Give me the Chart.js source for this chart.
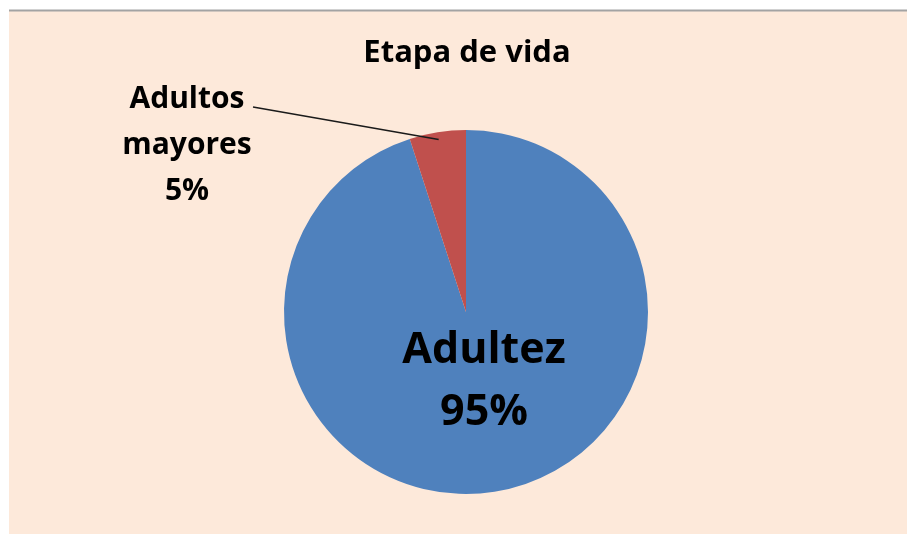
<!DOCTYPE html>
<html>
<head>
<meta charset="utf-8">
<title>Etapa de vida</title>
<script src="https://cdn.jsdelivr.net/npm/chart.js@4.4.1/dist/chart.umd.min.js"></script>
<style>
    html, body { margin: 0; padding: 0; background: #ffffff; }
    #wrap { width: 907px; height: 535px; position: relative; }
</style>
</head>
<body>
<div id="wrap"><canvas id="pieChart" width="907" height="535"></canvas></div>
<script>
// Data
const chartTitle = 'Etapa de vida';
const labels = ['Adultez', 'Adultos mayores'];
const values = [95, 5];
const sliceColors = ['#4F81BD', '#C0504D'];

/**
 * Background frame (peach panel with grey top rule)
 */
const frameBackground = {
    id: 'frameBackground',
    beforeDraw(chart) {
        const c = chart.ctx;
        c.save();
        c.fillStyle = '#ffffff';
        c.fillRect(0, 0, chart.width, chart.height);
        c.fillStyle = '#FDE9DA';
        c.fillRect(9, 11, chart.width - 9, chart.height - 12);
        c.strokeStyle = '#a3a3a3';
        c.lineWidth = 2;
        c.beginPath();
        c.moveTo(9, 10.5);
        c.lineTo(chart.width, 10.5);
        c.stroke();
        c.restore();
    }
};

/**
 * Title and slice labels
 */
const pieLabels = {
    id: 'pieLabels',
    afterDatasetsDraw(chart) {
        const c = chart.ctx;
        const arcs = chart.getDatasetMeta(0).data;
        const cx = arcs[0].x;
        const cy = arcs[0].y;
        const r = arcs[0].outerRadius;
        const total = values.reduce((a, b) => a + b, 0);
        const pct = values.map(v => Math.round(v / total * 100) + '%');

        c.save();
        c.fillStyle = '#000000';
        c.textAlign = 'center';
        c.textBaseline = 'alphabetic';

        // title
        c.font = 'bold 31px "Open Sans"';
        c.fillText(chartTitle, cx + 1, 62);

        // big slice label inside
        c.font = 'bold 43px "Open Sans"';
        c.fillText(labels[0], cx + 18, cy + 51);
        c.fillText(pct[0], cx + 18, cy + 113);

        // small slice label outside with leader line
        const small = arcs[1];
        const mid = (small.startAngle + small.endAngle) / 2;
        const ex = cx + Math.cos(mid) * r * 0.96;
        const ey = cy + Math.sin(mid) * r * 0.96;
        c.strokeStyle = '#1a1a1a';
        c.lineWidth = 1.5;
        c.beginPath();
        c.moveTo(253, 107);
        c.lineTo(ex, ey);
        c.stroke();

        c.font = 'bold 30px "Open Sans"';
        const lx = 187;
        c.fillText('Adultos', lx, 108);
        c.fillText('mayores', lx, 154);
        c.fillText(pct[1], lx, 200);
        c.restore();
    }
};

const ctx = document.getElementById('pieChart');
new Chart(ctx, {
    type: 'pie',
    data: {
        labels: labels,
        datasets: [{
            data: values,
            backgroundColor: sliceColors,
            borderWidth: 0
        }]
    },
    options: {
        responsive: false,
        animation: false,
        layout: {
            padding: { left: 284, right: 259, top: 130, bottom: 41 }
        },
        plugins: {
            legend: { display: false },
            title: { display: false },
            tooltip: { enabled: false }
        }
    },
    plugins: [frameBackground, pieLabels]
});
</script>
</body>
</html>
